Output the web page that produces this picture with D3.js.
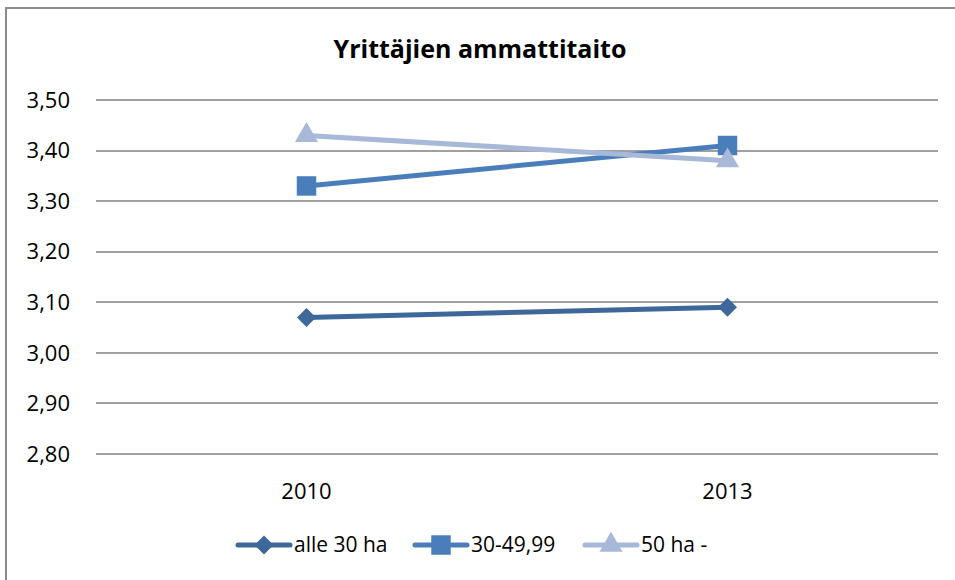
<html>
<head>
<style>
  body { margin: 0; background: #fff; }
  text { font-family: "Open Sans", "Liberation Sans", sans-serif; fill: #000; }
</style>
</head>
<body>
<script src="https://d3js.org/d3.v7.min.js"></script>
<script>
// data
var years = ["2010", "2013"];
var seriesNames = ["alle 30 ha", "30-49,99", "50 ha -"];
var alle30 = [3.07, 3.09];
var ha30to50 = [3.33, 3.41];
var ha50plus = [3.43, 3.38];
var yTicks = [2.8, 2.9, 3.0, 3.1, 3.2, 3.3, 3.4, 3.5];

var colors = ["#3E6899", "#4A7EBB", "#A7B8D8"];
var symbols = [d3.symbolSquare, d3.symbolSquare, d3.symbolTriangle];
var symbolSizes = [180, 380, 230];
var symbolRot = [45, 0, 0];

var width = 955, height = 580;
var svg = d3.select("body").append("svg")
    .attr("width", width)
    .attr("height", height);

// outer frame (only left/top visible in reference)
svg.append("rect")
    .attr("x", 6).attr("y", 8)
    .attr("width", 1000).attr("height", 600)
    .attr("fill", "none")
    .attr("stroke", "#8c8c8c")
    .attr("stroke-width", 2);

var plotL = 96, plotR = 938, plotT = 100, plotB = 454;

var x = d3.scaleBand().domain(years).range([plotL, plotR]);
var y = d3.scaleLinear().domain([2.8, 3.5]).range([plotB, plotT]);

// title
svg.append("text")
    .attr("x", 480).attr("y", 58)
    .attr("text-anchor", "middle")
    .style("font-size", "25px")
    .style("font-weight", "bold")
    .text("Yrittäjien ammattitaito");

// gridlines
svg.append("g").selectAll("line")
    .data(yTicks).enter().append("line")
    .attr("x1", plotL).attr("x2", plotR)
    .attr("y1", function(d) { return Math.round(y(d)); })
    .attr("y2", function(d) { return Math.round(y(d)); })
    .attr("stroke", "#a0a0a0")
    .attr("stroke-width", 2);

// y labels
svg.append("g").selectAll("text")
    .data(yTicks).enter().append("text")
    .attr("x", 70)
    .attr("y", function(d) { return y(d); })
    .attr("dy", "0.35em")
    .attr("text-anchor", "end")
    .style("font-size", "22px")
    .text(function(d) { return d.toFixed(2).replace(".", ","); });

// x labels
svg.append("g").selectAll("text")
    .data(years).enter().append("text")
    .attr("x", function(d) { return x(d) + x.bandwidth() / 2; })
    .attr("y", 499)
    .attr("text-anchor", "middle")
    .style("font-size", "22px")
    .text(function(d) { return d; });

var allSeries = [alle30, ha30to50, ha50plus];
var line = d3.line()
    .x(function(d, i) { return x(years[i]) + x.bandwidth() / 2; })
    .y(function(d) { return y(d); });

allSeries.forEach(function(vals, s) {
    svg.append("path")
        .datum(vals)
        .attr("d", line)
        .attr("fill", "none")
        .attr("stroke", colors[s])
        .attr("stroke-width", 5);
});

allSeries.forEach(function(vals, s) {
    svg.append("g").selectAll("path")
        .data(vals).enter().append("path")
        .attr("transform", function(d, i) {
            return "translate(" + (x(years[i]) + x.bandwidth() / 2) + "," + y(d) + ") rotate(" + symbolRot[s] + ")";
        })
        .attr("d", d3.symbol().type(symbols[s]).size(symbolSizes[s]))
        .attr("fill", colors[s]);
});

// legend
var legendX = [238, 415, 585];
var legend = svg.append("g");
seriesNames.forEach(function(name, s) {
    var g = legend.append("g").attr("transform", "translate(" + legendX[s] + ",545)");
    g.append("line")
        .attr("x1", 0).attr("x2", 52)
        .attr("stroke", colors[s])
        .attr("stroke-width", 5)
        .attr("stroke-linecap", "round");
    g.append("path")
        .attr("transform", "translate(26,0) rotate(" + symbolRot[s] + ")")
        .attr("d", d3.symbol().type(symbols[s]).size(symbolSizes[s]))
        .attr("fill", colors[s]);
    g.append("text")
        .attr("x", 56)
        .attr("dy", "0.35em")
        .style("font-size", "21px")
        .text(name);
});
</script>
</body>
</html>
